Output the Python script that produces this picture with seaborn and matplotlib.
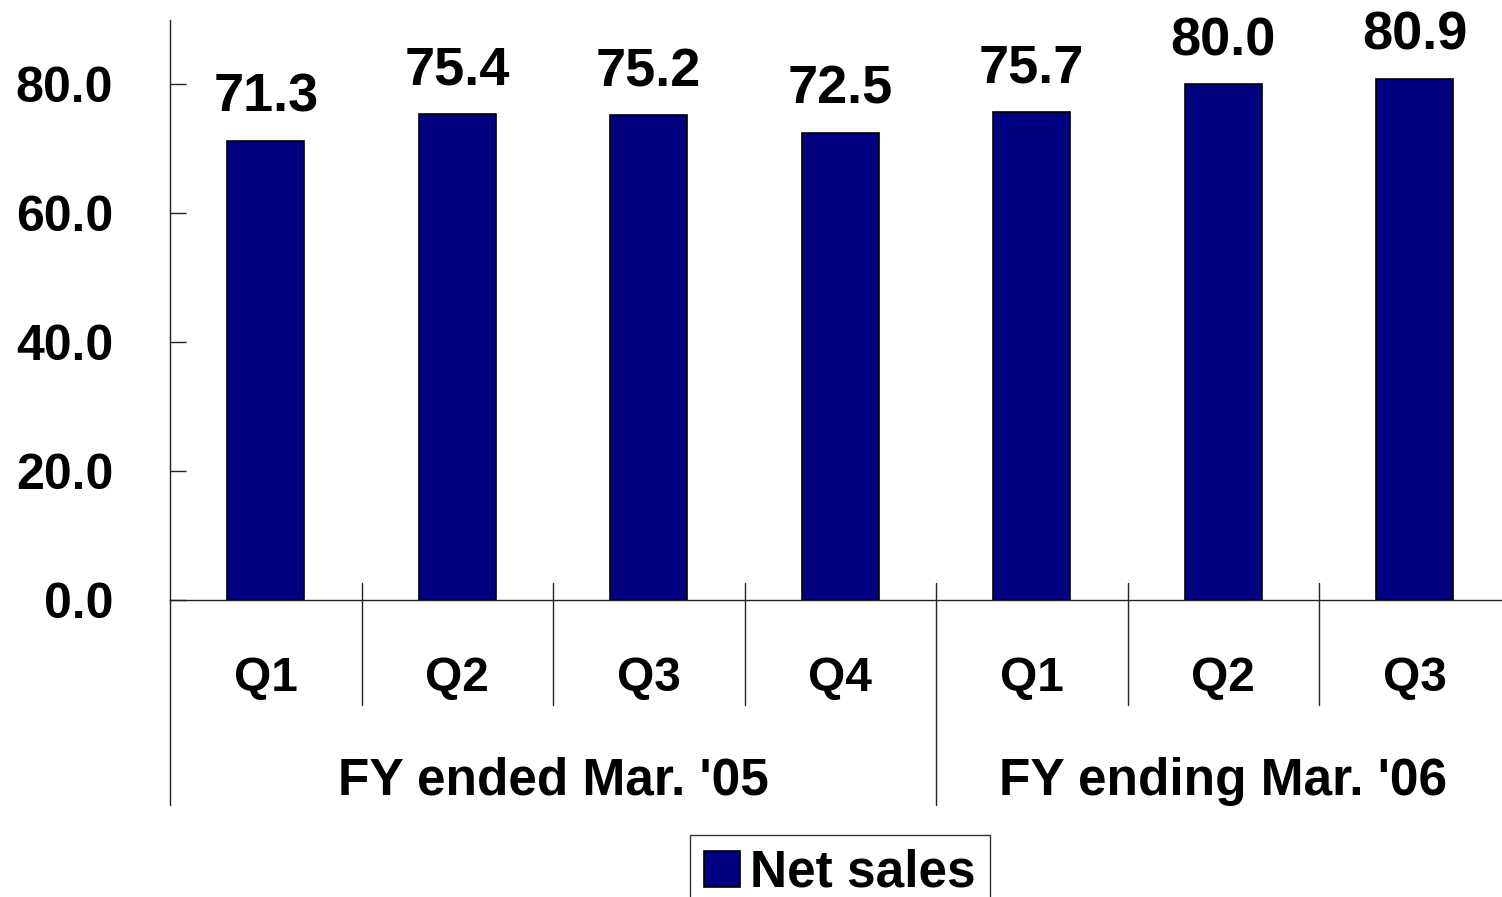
import matplotlib
matplotlib.use("Agg")
import matplotlib.pyplot as plt
from matplotlib.patches import Patch
import seaborn as sns
import pandas as pd

# ---- data ----
periods = ["FY05 Q1", "FY05 Q2", "FY05 Q3", "FY05 Q4", "FY06 Q1", "FY06 Q2", "FY06 Q3"]
quarter_labels = ["Q1", "Q2", "Q3", "Q4", "Q1", "Q2", "Q3"]
net_sales = [71.3, 75.4, 75.2, 72.5, 75.7, 80.0, 80.9]
group_labels = ["FY ended Mar. '05", "FY ending Mar. '06"]
group_sizes = [4, 3]
y_ticks = [0, 20, 40, 60, 80]
series_name = "Net sales"

sns.set_theme(style="white")
plt.rcParams["font.family"] = ["Liberation Sans", "DejaVu Sans"]
plt.rcParams["font.weight"] = "bold"
plt.rcParams["text.color"] = "black"
plt.rcParams["xtick.color"] = "black"
plt.rcParams["ytick.color"] = "black"

W, H = 1502, 897
fig = plt.figure(figsize=(W / 100, H / 100), dpi=100)
ax = fig.add_axes([170 / W, (H - 600) / H, (W - 170) / W, 580 / H])

df = pd.DataFrame({"period": periods, "value": net_sales})
sns.barplot(data=df, x="period", y="value", order=periods, color="#000080",
            saturation=1, width=0.4, edgecolor="black", linewidth=1.2, ax=ax)

ax.set_xlim(-0.5, -0.5 + (W - 170) / 191.5)
ax.set_ylim(0, 90)
ax.set_xlabel("")
ax.set_ylabel("")

line_color = "#222222"
for s in ["top", "right"]:
    ax.spines[s].set_visible(False)
ax.spines["left"].set_color(line_color)
ax.spines["bottom"].set_color(line_color)
ax.spines["left"].set_linewidth(1.0)
ax.spines["bottom"].set_linewidth(1.0)

ax.set_yticks(y_ticks)
ax.set_yticklabels([f"{v:.1f}" for v in y_ticks], fontsize=36, fontweight="bold")
ax.tick_params(axis="y", direction="in", length=11.5, width=1.0, color=line_color,
               pad=41, left=True, labelcolor="black")
ax.set_xticks(range(len(periods)))
ax.set_xticklabels(quarter_labels, fontsize=34.5, fontweight="bold")
ax.tick_params(axis="x", length=0, pad=40, labelcolor="black")

# value labels
for i, v in enumerate(net_sales):
    ax.annotate(f"{v:.1f}", xy=(i, v), xytext=(0, 21), textcoords="offset points",
                ha="center", va="baseline", fontsize=39, fontweight="bold", color="black")

# category dividers
trans = ax.get_xaxis_transform()
boundaries = [0]
for g in group_sizes:
    boundaries.append(boundaries[-1] + g)
group_edges = set(boundaries)
for k in range(len(periods)):
    xb = k - 0.5
    bottom = -0.353 if k in group_edges else -0.181
    ax.plot([xb, xb], [0.029 if k > 0 else 0, bottom], transform=trans,
            color=line_color, lw=1.0, clip_on=False)

# group labels
for lab, start, size in zip(group_labels, boundaries[:-1], group_sizes):
    xc = start + (size - 1) / 2
    ax.text(xc, -0.336, lab, transform=trans, ha="center", va="baseline",
            fontsize=37, fontweight="bold", color="black")

# legend
handle = Patch(facecolor="#000080", edgecolor="black", linewidth=1.2, label=series_name)
leg = fig.legend(handles=[handle], loc="upper center",
                 bbox_to_anchor=(840 / W, 1 - 835 / H),
                 prop={"weight": "bold", "size": 37},
                 frameon=True, fancybox=False, handlelength=0.7, handleheight=0.7,
                 handletextpad=0.2, borderpad=0.27, borderaxespad=0)
leg.get_frame().set_edgecolor("black")
leg.get_frame().set_linewidth(1.0)
for t in leg.get_texts():
    t.set_color("black")

fig.savefig("out.png", dpi=100)
